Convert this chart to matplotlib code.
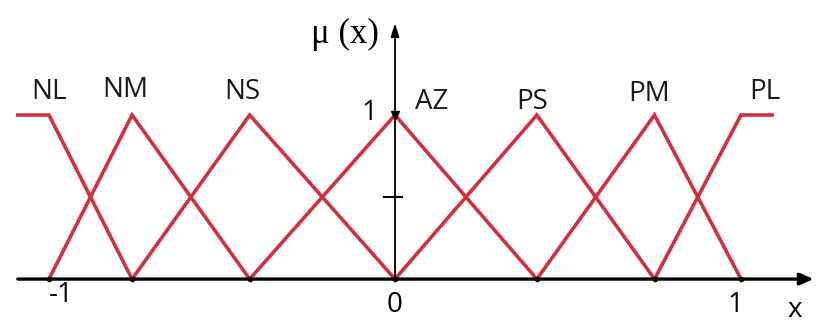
import matplotlib
matplotlib.use("Agg")
import matplotlib.pyplot as plt

# data
labels = ["NL", "NM", "NS", "AZ", "PS", "PM", "PL"]
peaks = [-1.0, -0.76, -0.42, 0.0, 0.41, 0.75, 1.0]
shoulder_ext = [-1.09, 1.09]
y_tick_vals = [0.5]

red = "#D42F3C"
fig = plt.figure(figsize=(8.2, 3.25), dpi=100)
ax = fig.add_axes([0, 0, 1, 1])
ax.set_xlim(-1.1416, 1.2283)
ax.set_ylim(-0.280, 1.701)
ax.axis("off")

# membership functions
n = len(peaks)
for i in range(n):
    if i == 0:
        xs = [shoulder_ext[0], peaks[0], peaks[1]]
        ys = [1, 1, 0]
    elif i == n - 1:
        xs = [peaks[-2], peaks[-1], shoulder_ext[1]]
        ys = [0, 1, 1]
    else:
        xs = [peaks[i - 1], peaks[i], peaks[i + 1]]
        ys = [0, 1, 0]
    ax.plot(xs, ys, color=red, lw=2.6, solid_joinstyle="miter", zorder=3)

# axes lines
ax.annotate("", xy=(1.21, 0), xytext=(-1.09, 0),
            arrowprops=dict(arrowstyle="-|>,head_length=0.8,head_width=0.35",
                            color="black", lw=2.4, shrinkA=0, shrinkB=0), zorder=4)
ax.annotate("", xy=(0, 1.56), xytext=(0, 0),
            arrowprops=dict(arrowstyle="-|>,head_length=0.8,head_width=0.25",
                            color="black", lw=1.3, shrinkA=0, shrinkB=0), zorder=4)
for yv in y_tick_vals:
    ax.plot([-0.033, 0.02], [yv, yv], color="black", lw=1.5, zorder=4)

# small dots at base points
ax.plot(peaks, [0] * len(peaks), "o", color="black", ms=3, zorder=5)
ax.plot([0], [1.0], "v", color="black", ms=6, zorder=5)

# labels
lab_font = ["Liberation Sans Narrow", "Open Sans"]
fs = 20
label_pos = [(-1.0, 1.14), (-0.78, 1.15), (-0.44, 1.14), (0.105, 1.08),
             (0.395, 1.08), (0.735, 1.13), (1.07, 1.14)]
for lab, (lx, ly) in zip(labels, label_pos):
    ax.text(lx, ly, lab, fontsize=fs, family=lab_font, ha="center", va="center",
            color="#1a1a1a")

ax.text(-0.075, 1.01, "1", fontsize=fs, family=lab_font, ha="center", va="center")
ax.text(0.0, -0.16, "0", fontsize=fs, family=lab_font, ha="center", va="center")
ax.text(-0.965, -0.10, "-1", fontsize=fs, family=lab_font, ha="center", va="center")
ax.text(0.985, -0.16, "1", fontsize=fs, family=lab_font, ha="center", va="center")
ax.text(1.155, -0.19, "x", fontsize=fs, family=lab_font, ha="center", va="center")
ax.text(-0.145, 1.49, "μ (x)", fontsize=25, family="Liberation Serif",
        ha="center", va="center")

fig.savefig("out.png", dpi=100)
